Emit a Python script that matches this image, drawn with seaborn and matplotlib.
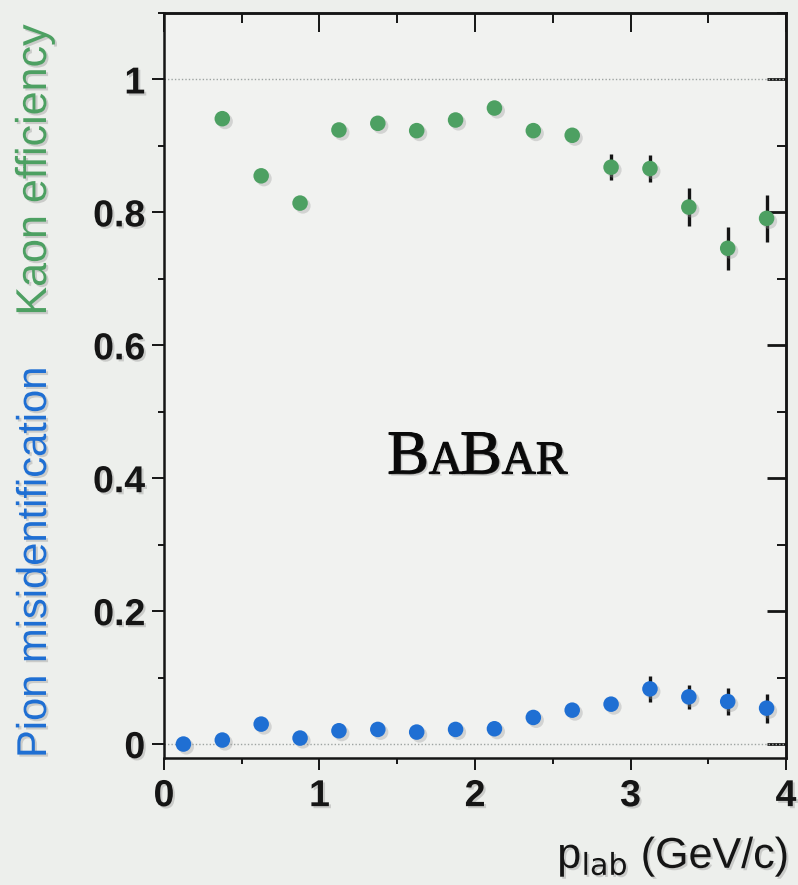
import matplotlib
matplotlib.use("Agg")
import matplotlib.pyplot as plt
import matplotlib.patheffects as pe
from matplotlib.ticker import MultipleLocator, FormatStrFormatter
import numpy as np
import pandas as pd
import seaborn as sns

# Kaon identification efficiency vs. lab momentum
kaon_p = [0.375, 0.625, 0.875, 1.125, 1.375, 1.625, 1.875, 2.125,
          2.375, 2.625, 2.875, 3.125, 3.375, 3.625, 3.875]
kaon_eff = [0.941, 0.855, 0.814, 0.924, 0.934, 0.923, 0.939, 0.957,
            0.923, 0.916, 0.868, 0.866, 0.808, 0.746, 0.791]
kaon_err = [0.008, 0.008, 0.008, 0.008, 0.008, 0.008, 0.008, 0.008,
            0.008, 0.008, 0.020, 0.020, 0.028, 0.032, 0.035]

# Pion misidentification rate vs. lab momentum
pion_p = [0.125, 0.375, 0.625, 0.875, 1.125, 1.375, 1.625, 1.875,
          2.125, 2.375, 2.625, 2.875, 3.125, 3.375, 3.625, 3.875]
pion_mis = [0.000, 0.006, 0.030, 0.009, 0.020, 0.022, 0.018, 0.022,
            0.023, 0.040, 0.051, 0.060, 0.083, 0.071, 0.064, 0.054]
pion_err = [0.003, 0.003, 0.004, 0.003, 0.004, 0.004, 0.004, 0.004,
            0.005, 0.006, 0.008, 0.009, 0.020, 0.018, 0.020, 0.022]

x_ticks = [0, 1, 2, 3, 4]
y_ticks = [0, 0.2, 0.4, 0.6, 0.8, 1.0]

kaon = pd.DataFrame({"p": kaon_p, "eff": kaon_eff, "err": kaon_err})
pion = pd.DataFrame({"p": pion_p, "mis": pion_mis, "err": pion_err})

GREEN = "#4DA062"
BLUE = "#1F6FD3"
BG = "#EDEFEC"
AX_BG = "#F1F2F0"
INK = "#151515"

sns.set_style("ticks")
plt.rcParams["font.family"] = ["Liberation Sans", "DejaVu Sans"]

fig = plt.figure(figsize=(7.98, 8.85), dpi=100, facecolor=BG)
ax = fig.add_axes([0.2055, 0.1435, 0.7795, 0.8418])
ax.set_facecolor(AX_BG)

shadow = [pe.SimplePatchShadow(offset=(2.0, -2.0), shadow_rgbFace="#9a9a9a", alpha=0.35),
          pe.Normal()]
text_shadow = [pe.withSimplePatchShadow(offset=(1.5, -1.5), shadow_rgbFace="#8a8a8a", alpha=0.35)]

# reference lines at full and zero efficiency
for yref in (0.0, 1.0):
    ax.axhline(yref, color="#9ea4a2", lw=1.0, ls=(0, (1, 1.5)), zorder=1)

# error bars
ax.errorbar(kaon["p"], kaon["eff"], yerr=kaon["err"], fmt="none",
            ecolor=INK, elinewidth=2.4, capsize=0, zorder=2)
ax.errorbar(pion["p"], pion["mis"], yerr=pion["err"], fmt="none",
            ecolor=INK, elinewidth=2.4, capsize=0, zorder=2)

# data points
sns.scatterplot(data=kaon, x="p", y="eff", ax=ax, color=GREEN, s=125,
                edgecolor="none", linewidth=0, zorder=3)
sns.scatterplot(data=pion, x="p", y="mis", ax=ax, color=BLUE, s=125,
                edgecolor="none", linewidth=0, zorder=3)
for coll in ax.collections:
    coll.set_path_effects(shadow)

ax.set_xlim(0, 4)
ax.set_ylim(-0.021, 1.10)
ax.set_xlabel("")
ax.set_ylabel("")

# bottom / left: outward ticks with labels
ax.set_xticks(x_ticks)
ax.set_yticks(y_ticks)
ax.xaxis.set_minor_locator(MultipleLocator(0.5))
ax.yaxis.set_minor_locator(MultipleLocator(0.1))
ax.yaxis.set_major_formatter(FormatStrFormatter("%g"))
ax.tick_params(axis="both", which="major", direction="out", length=8.5, width=1.4,
               color=INK, labelsize=27, labelcolor=INK)
ax.tick_params(axis="x", which="major", pad=6)
ax.tick_params(axis="y", which="major", pad=5)
ax.tick_params(axis="both", which="minor", direction="out", length=4.5, width=1.4, color=INK)
ax.tick_params(top=False, right=False, which="both")
for lab in ax.get_xticklabels() + ax.get_yticklabels():
    lab.set_fontweight("bold")
    lab.set_path_effects(text_shadow)

# top / right: inward ticks, no labels
top = ax.secondary_xaxis("top")
top.set_xticks(x_ticks)
top.xaxis.set_minor_locator(MultipleLocator(0.5))
top.tick_params(which="major", direction="in", length=14, width=1.4, color=INK, labeltop=False)
top.tick_params(which="minor", direction="in", length=7, width=1.4, color=INK)
right = ax.secondary_yaxis("right")
right.set_yticks(y_ticks)
right.yaxis.set_minor_locator(MultipleLocator(0.1))
right.tick_params(which="major", direction="in", length=14, width=2.0, color=INK, labelright=False)
right.tick_params(which="minor", direction="in", length=6.5, width=1.4, color=INK)

for sp in list(ax.spines.values()) + [top.spines["top"], right.spines["right"]]:
    sp.set_color(INK)
    sp.set_linewidth(1.8)

# two-colour y-axis title
fig.text(35 / 798, 1 - 563 / 885, "Pion misidentification", rotation=90,
         ha="center", va="center", fontsize=30, color=BLUE, path_effects=text_shadow)
fig.text(35 / 798, 1 - 170 / 885, "Kaon efficiency", rotation=90,
         ha="center", va="center", fontsize=31, color=GREEN, path_effects=text_shadow)

# x-axis title
fig.text(788 / 798, 1 - 868 / 885, r"p$_{\mathrm{lab}}$ (GeV/c)", ha="right", va="baseline",
         fontsize=31, color=INK, path_effects=text_shadow)

# BaBar logotype in small capitals
fig.canvas.draw()
renderer = fig.canvas.get_renderer()
pieces = [("B", 45), ("A", 34), ("B", 45), ("AR", 34)]
objs = []
for s, fs in pieces:
    t = fig.text(0, 0, s, fontsize=fs, family="Liberation Serif",
                 color="#0a0a0a", va="baseline", ha="left", transform=None,
                 path_effects=[pe.withStroke(linewidth=0.9, foreground="#0a0a0a"),
                               pe.withSimplePatchShadow(offset=(1.5, -1.5),
                                                        shadow_rgbFace="#8a8a8a", alpha=0.35)])
    objs.append(t)
widths = [t.get_window_extent(renderer).width for t in objs]
total = sum(widths) - 2 * 3
x0 = ax.transData.transform((2.006, 0.407))
cx = x0[0] - total / 2
for t, w, (s, fs) in zip(objs, widths, pieces):
    t.set_position((cx, x0[1]))
    cx += w - (3 if s == "A" else 0)

fig.savefig("out.png", dpi=100, facecolor=BG)
